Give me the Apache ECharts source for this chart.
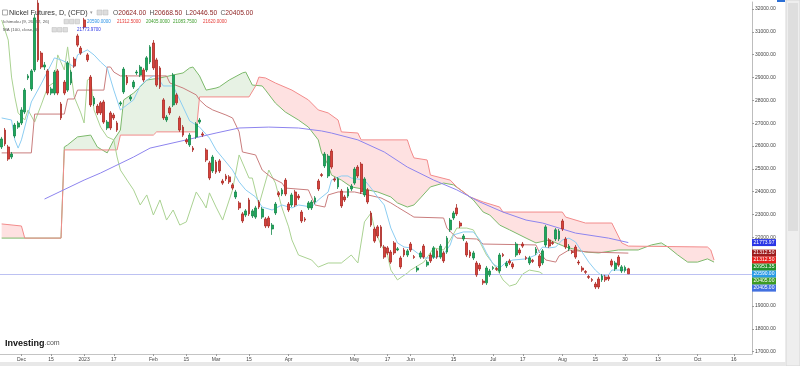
<!DOCTYPE html>
<html><head><meta charset="utf-8">
<script src="https://cdn.jsdelivr.net/npm/echarts/dist/echarts.min.js"></script>
<style>html,body{margin:0;padding:0;background:#fff;}#c{width:800px;height:366px;}</style>
</head><body><div id="c"></div>
<script>
// ---- data ----
const slotCount = 228; // trading-day slots incl. 26 projected days
const tickLabels = [[6,'Dec'],[15,'15'],[25,'2023'],[34,'17'],[46,'Feb'],[56,'15'],[65,'Mar'],[75,'15'],[87,'Apr'],[107,'May'],[117,'17'],[124,'Jun'],[137,'15'],[149,'Jul'],[158,'17'],[170,'Aug'],[180,'15'],[189,'30'],[199,'13'],[211,'Oct'],[222,'16']];
const yTicks = [17000,18000,19000,20000,21000,22000,23000,24000,25000,26000,27000,28000,29000,30000,31000,32000];
// [open, close, low, high]
const candles = [
[25960,26310,25870,26400],[26700,26090,26000,26790],[25960,25430,25350,26050],[25520,25650,25430,25740],[26440,26920,26350,27010],
[26830,27010,26750,27100],[27010,27580,26920,27700],[27490,28450,27400,28540],[28980,29070,28890,29150],[28500,29290,28410,29370],
[29330,31610,29240,31780],[32260,29770,29680,32390],[30070,29460,29370,30160],[29460,29550,29330,29680],[29290,28320,28230,29370],
[28320,28500,28230,28590],[28320,29240,28230,29330],[29290,28320,28230,29370],[27840,27230,27140,27930],[28800,28320,28230,28890],
[28450,29640,28370,29720],[28760,29240,28670,29330],[29810,29500,29420,29900],[30820,30420,30340,30910],[30290,30070,29990,30380],
[31520,31210,31120,31610],[29990,29770,29680,30070],[29020,27800,27710,29110],[27840,28100,27750,28190],[27750,27450,27360,27840],
[27890,27450,27360,27970],[27930,27050,26970,28020],[26790,27050,26700,27140],[27450,26790,26700,27530],[27360,27230,27140,27450],
[27010,26700,26620,27100],[27840,27890,27750,27970],[28370,29370,28280,29460],[29020,28760,28670,29110],[28060,28150,27970,28240],
[28590,28800,28500,28890],[29200,29240,29110,29330],[29110,29460,29020,29550],[29330,28890,28800,29420],[29330,29860,29240,29940],
[29680,30340,29590,30420],[30510,29420,29330,30640],[29770,28670,28590,29860],[29420,28590,28500,29500],[28020,27230,27140,28100],
[27140,27270,27050,27360],[27670,27450,27360,27750],[27800,29110,27710,29200],[28240,27890,27800,28320],[27230,26700,26620,27320],
[26830,26480,26400,26920],[26270,26180,26090,26350],[26050,26480,25960,26570],[25910,25830,25740,26000],[26400,26970,26310,27050],
[27050,27140,26970,27230],[26530,26480,26400,26620],[25830,25390,25300,25910],[25260,24600,24510,25350],[24910,25520,24820,25610],
[25300,24860,24780,25390],[25350,24910,24820,25430],[24470,24380,24300,24560],[24690,24560,24470,24780],[24650,24430,24340,24730],
[24300,24160,24080,24380],[23770,23990,23680,24080],[23510,23290,23200,23590],[23030,22720,22630,23110],[22980,23160,22890,23240],
[23640,23030,22940,23730],[22940,23160,22850,23240],[22890,23290,22810,23380],[23550,23330,23240,23640],[22890,23240,22810,23330],
[22810,22500,22410,22890],[22850,22500,22410,22940],[22370,22540,22110,22630],[23070,23460,22980,23550],[23950,23860,23770,24030],
[23900,24080,23810,24160],[24510,23900,23810,24600],[23460,23200,23110,23550],[23420,23860,23330,23950],[23990,23420,23330,24080],
[23810,23730,23640,23900],[23110,22720,22630,23200],[22810,22760,22680,22890],[23290,23510,23200,23590],[23290,23550,23200,23640],
[23550,23730,23460,23810],[24470,24120,24030,24560],[24750,24710,24640,24820],[25130,25650,25040,25740],[24690,25560,24600,25650],
[25780,25080,24990,25870],[24560,24510,24430,24640],[24210,24560,24120,24640],[24030,23380,23290,24120],[23770,23640,23550,23860],
[23810,24120,23730,24210],[24120,24250,24030,24340],[24380,24990,24300,25080],[25080,24690,24600,25170],[25210,23990,23900,25300],
[23860,24560,23770,24640],[24080,23550,23460,24160],[23070,22540,22460,23160],[22370,21840,21760,22460],[22460,22060,21970,22540],
[22460,21620,21540,22540],[21580,21140,21060,21670],[21540,21320,21230,21620],[21360,20920,20840,21450],[21760,21320,21230,21840],
[21450,21500,21400,21580],[21100,20710,20620,21190],[21450,21230,21140,21540],[21230,21410,21140,21490],[21710,21450,21360,21800],
[21160,21120,21060,21230],[20570,20660,20480,20750],[21140,21320,21060,21410],[21620,21140,21060,21710],[20790,20920,20710,21010],
[21230,20970,20880,21320],[21140,21540,21060,21620],[21410,21140,21060,21490],[21140,21620,21060,21710],[21320,20970,20880,21410],
[21360,21970,21280,22060],[22330,22760,22240,22850],[22850,23070,22760,23160],[23290,23030,22940,23460],[22630,22500,22410,22720],
[21930,22060,21840,22150],[21760,21230,21140,21840],[21360,21190,21100,21450],[21100,21320,21010,21410],[20880,20360,20270,20970],
[20790,20620,20530,20880],[20090,20010,19920,20180],[20010,20660,19920,20750],[20360,20530,20270,20620],[20640,20680,20570,20750],
[20640,20600,20530,20710],[20530,21230,20440,21320],[21250,21200,21140,21320],[20750,20880,20660,20970],[20970,20880,20790,21060],
[20840,20710,20620,20920],[21230,21710,21140,21800],[21450,21320,21230,21540],[21710,21620,21540,21800],[21120,21080,21010,21190],
[20880,21100,20790,21190],[21000,20950,20880,21060],[21320,21490,21230,21580],[21190,20750,20660,21270],[20880,21410,20790,21490],
[21670,22460,21580,22540],[21890,21620,21540,21970],[21780,21730,21670,21840],[21930,22330,21840,22410],[21930,22280,21840,22370],
[22720,22370,22280,22810],[21930,21580,21490,22020],[21490,21620,21400,21710],[21380,21340,21270,21450],[21580,21140,21060,21670],
[20920,20880,20790,21010],[20660,20570,20490,20750],[20510,20470,20400,20570],[20290,20250,20180,20360],[20160,20120,20050,20220],
[19960,19830,19740,20050],[20180,19830,19740,20270],[20140,20310,20050,20400],[20270,20140,20050,20360],[20270,20180,20090,20360],
[20970,20790,20710,21060],[20620,20880,20530,20970],[21140,20790,20710,21230],[20530,20710,20440,20790],[20550,20690,20460,20770],
[20624,20405,20400,20668.5]
];
const ma100 = [[13,23680],[25,24510],[30,24820],[40,25520],[45,25910],[56,26270],[65,26570],[72,26790],[81,26830],[90,26790],[97,26660],[100,26570],[108,26270],[116,25740],[123,25080],[131,24510],[138,24080],[145,23550],[152,23110],[159,22760],[164,22630],[174,22190],[184,21970],[190,21773.97]];
const tenkan = [[0,27230],[3,27140],[4,26270],[5,25910],[6,26270],[9,27930],[12,28720],[16,29860],[18,29770],[20,29640],[22,29460],[23,29990],[26,30210],[28,29990],[30,29680],[32,29420],[34,28450],[36,27580],[38,27800],[40,28020],[42,28630],[44,28890],[46,29070],[47,29070],[49,28630],[52,28630],[54,28020],[57,27100],[60,26830],[63,26350],[65,25830],[67,25480],[70,24950],[72,24430],[74,24080],[77,23770],[79,23330],[82,23200],[85,23420],[88,23290],[90,23420],[94,23330],[96,23640],[99,23990],[100,24510],[103,24690],[105,24690],[106,24600],[110,24510],[112,24160],[114,23770],[116,23420],[118,22410],[120,21760],[122,21580],[124,21540],[126,21320],[128,21100],[130,21100],[132,21140],[134,21270],[136,21670],[137,22110],[140,22240],[143,22240],[145,21890],[147,21320],[149,20840],[151,20660],[153,20920],[155,21010],[159,21060],[162,21230],[164,21580],[166,21540],[168,21580],[170,21890],[172,21970],[174,21800],[176,21360],[178,20920],[180,20570],[182,20310],[184,20360],[185,20570],[188,20570],[190,20590]];
const kijun = [[0,25700],[9,25700],[10,27400],[19,27400],[20,28060],[22,28060],[23,28450],[31,28450],[32,29460],[33,29460],[34,29240],[36,29070],[50,29070],[51,28760],[55,28540],[59,28240],[60,28020],[62,27750],[64,27580],[68,27360],[70,27230],[72,26620],[73,25740],[77,25610],[79,24950],[82,24600],[85,24380],[86,24160],[93,24080],[95,23420],[98,23330],[99,23860],[102,23990],[107,23990],[111,23860],[115,23730],[118,23510],[120,23330],[124,22980],[125,22890],[134,22850],[135,22410],[138,21970],[144,21930],[146,21710],[162,21670],[163,21360],[165,21010],[168,20920],[169,21190],[172,21450],[178,21360],[190,21312.5]];
const chikou = [[0,31520],[2,30640],[3,29020],[4,28150],[5,27450],[7,27140],[8,27580],[10,27050],[12,27800],[14,28590],[16,28800],[17,29990],[19,29330],[20,30340],[21,29200],[22,28150],[24,27450],[25,27010],[26,28890],[27,28980],[28,27580],[30,26830],[32,26400],[34,26270],[35,25520],[36,24950],[38,24510],[40,24080],[42,23420],[44,23860],[46,22980],[48,23640],[50,22760],[52,23200],[54,22540],[56,22680],[59,23990],[61,23550],[62,23290],[63,23950],[65,23330],[67,22760],[70,24080],[72,25610],[75,24600],[76,24600],[78,23420],[81,24950],[83,24380],[85,23290],[87,22460],[88,21890],[90,21230],[94,21010],[96,20700],[99,20880],[103,20880],[106,21230],[108,20880],[110,22680],[112,23070],[113,22410],[115,21670],[117,21230],[118,20570],[120,20140],[123,20440],[124,20570],[128,20920],[131,21540],[134,21450],[136,21890],[138,22410],[141,22410],[143,22330],[145,21800],[147,21230],[150,20660],[152,20140],[154,19870],[156,19960],[158,20400],[160,20570],[163,20490],[164,20405]];
const senkouA = [[0,21970],[18,21970],[19,25960],[20,26050],[23,26400],[27,26480],[29,25960],[32,25700],[34,26270],[36,26700],[37,28020],[40,28320],[42,28590],[44,28890],[48,28980],[52,29110],[55,29200],[57,29420],[58,29460],[60,29070],[62,28450],[65,28540],[66,28590],[69,28890],[73,29200],[74,29240],[76,28670],[79,28630],[80,28450],[83,27880],[86,27490],[90,27140],[93,26830],[96,26270],[97,25700],[99,25170],[100,24730],[103,24510],[106,24210],[111,24080],[114,23990],[118,23770],[120,23510],[123,23330],[125,23420],[127,23730],[130,24210],[134,24380],[137,24300],[140,23990],[143,23640],[146,23110],[148,22980],[151,22540],[154,22330],[159,21970],[162,21760],[166,21890],[171,21580],[177,21360],[181,21320],[187,21450],[193,21450],[197,21670],[200,21760],[202,21580],[205,21230],[208,20920],[211,20920],[214,21060],[216,20920]];
const senkouB = [[0,22590],[6,22500],[7,21970],[18,21970],[19,25830],[35,25830],[36,26480],[46,26480],[47,26620],[59,26620],[60,28150],[75,28150],[77,28630],[78,29020],[80,28980],[83,28760],[88,28450],[93,28020],[96,27580],[99,27450],[102,27140],[103,26620],[108,26570],[109,26270],[123,26270],[124,25830],[125,25480],[129,25390],[130,24730],[136,24510],[138,24210],[142,23770],[146,23550],[151,23330],[152,23110],[170,23110],[171,22890],[177,22630],[185,22630],[188,21760],[190,21620],[214,21580],[215,21450],[216,21010]];
const lastPrice = 20405;
const tags = [
 {v:21773.97, text:'21773.97', color:'#2b36e6'},
 {v:21312.5, text:'21312.50', color:'#9e1d1d'},
 {v:21312.5, text:'21312.50', color:'#e6201c'},
 {v:20951.35, text:'20951.35', color:'#24902a'},
 {v:20590, text:'20590.00', color:'#2b9be6'},
 {v:20405, text:'20405.00', color:'#3d9a22'},
 {v:20405, text:'20405.00', color:'#4270e0'}
];

// ---- chart ----
const cats = Array.from({length: slotCount}, (_, i) => String(i));
const tickMap = {}; tickLabels.forEach(t => tickMap[t[0]] = t[1]);
const chart = echarts.init(document.getElementById('c'));

function interp(pts, i) {
  if (i <= pts[0][0]) return pts[0][1];
  for (let k = 0; k < pts.length - 1; k++) {
    const a = pts[k], b = pts[k + 1];
    if (i >= a[0] && i <= b[0]) return b[0] === a[0] ? b[1] : a[1] + (b[1] - a[1]) * (i - a[0]) / (b[0] - a[0]);
  }
  return pts[pts.length - 1][1];
}
const GREEN_FILL = 'rgba(110,180,95,0.17)', RED_FILL = 'rgba(250,105,105,0.2)';
function renderCloud(params, api) {
  const lo = Math.max(senkouA[0][0], senkouB[0][0]);
  const hi = Math.min(senkouA[senkouA.length - 1][0], senkouB[senkouB.length - 1][0]);
  const p0 = api.coord([0, 20000]), p1 = api.coord([1, 20000]);
  const w = p1[0] - p0[0];
  const px = f => p0[0] + f * w;
  const py = v => api.coord([0, v])[1];
  const nodes = [];
  for (let i = lo; i <= hi; i++) {
    const a = interp(senkouA, i), b = interp(senkouB, i);
    if (nodes.length) {
      const pr = nodes[nodes.length - 1];
      const d0 = pr.a - pr.b, d1 = a - b;
      if (d0 * d1 < 0) {
        const t = d0 / (d0 - d1);
        nodes.push({x: pr.x + t, a: pr.a + t * (a - pr.a), b: pr.b + t * (b - pr.b)});
      }
    }
    nodes.push({x: i, a: a, b: b});
  }
  const groups = []; let cur = null;
  for (let k = 0; k < nodes.length - 1; k++) {
    const n0 = nodes[k], n1 = nodes[k + 1];
    const s = (n0.a - n0.b) + (n1.a - n1.b);
    const sg = s > 0 ? 1 : (s < 0 ? -1 : (cur ? cur.sg : 1));
    if (!cur || cur.sg !== sg) { cur = {sg: sg, nodes: [n0]}; groups.push(cur); }
    cur.nodes.push(n1);
  }
  const children = groups.map(g => {
    const pts = g.nodes.map(n => [px(n.x), py(n.a)]).concat(g.nodes.slice().reverse().map(n => [px(n.x), py(n.b)]));
    return {type: 'polygon', shape: {points: pts}, style: {fill: g.sg > 0 ? GREEN_FILL : RED_FILL}, silent: true};
  });
  return {type: 'group', children: children};
}
function lineSeries(name, data, color, z) {
  return {name: name, type: 'line', data: data, showSymbol: false, symbol: 'none', silent: true, z: z || 2,
    lineStyle: {width: 1, color: color}, emphasis: {disabled: true}};
}

const option = {
  animation: false,
  grid: {left: 0, right: 48, top: 2, bottom: 12, containLabel: false},
  xAxis: {
    type: 'category', data: cats, boundaryGap: true,
    axisLine: {lineStyle: {color: '#c4c4c4', width: 1}},
    axisTick: {show: true, alignWithLabel: true, length: 2, interval: (i) => tickMap[i] !== undefined, lineStyle: {color: '#9a9a9a'}},
    axisLabel: {interval: (i) => tickMap[i] !== undefined, formatter: (v, i) => tickMap[i] || '', fontSize: 5, color: '#444', margin: 3, fontFamily: 'Arial'},
    splitLine: {show: false}
  },
  yAxis: {
    type: 'value', position: 'right', min: 16896, max: 32306,
    axisLine: {show: true, lineStyle: {color: '#bdbdbd'}},
    axisTick: {show: true, length: 2, customValues: yTicks, lineStyle: {color: '#9a9a9a'}},
    axisLabel: {customValues: yTicks.filter(v => v !== 20000 && v !== 21000), formatter: v => v.toFixed(2), fontSize: 5, color: '#444', margin: 3, fontFamily: 'Arial'},
    splitLine: {show: false}
  },
  series: [
    {type: 'custom', renderItem: renderCloud, data: [[0, 20000]], z: 1, silent: true, clip: true},
    lineSeries('SenkouA', senkouA, '#7cb96b'),
    lineSeries('SenkouB', senkouB, '#f28b8b'),
    lineSeries('Chikou', chikou, '#aad292'),
    lineSeries('Kijun', kijun, '#c97d7d'),
    lineSeries('Tenkan', tenkan, '#8ccdf2'),
    lineSeries('MA100', ma100, '#8d84ee'),
    {
      type: 'candlestick', data: candles, barWidth: 2.3, z: 5, silent: true,
      itemStyle: {color: '#1ea85b', color0: '#d9423b', borderColor: '#14884a', borderColor0: '#a92a24', borderWidth: 0.8},
      markLine: {symbol: 'none', silent: true, label: {show: false}, lineStyle: {color: '#bcc1f2', width: 1, type: 'solid'}, data: [{yAxis: lastPrice}]}
    }
  ]
};
chart.setOption(option);

// header / decorations
const hdr = [];
hdr.push({type: 'rect', shape: {x: 786, y: 0, width: 14, height: 366}, style: {fill: '#eeeeee', stroke: '#d6d6d6', lineWidth: 1}, z: 100});
hdr.push({type: 'rect', shape: {x: 788, y: 3, width: 10, height: 228}, style: {fill: '#dedede'}, z: 101});
hdr.push({type: 'rect', shape: {x: 777, y: 0, width: 8, height: 2}, style: {fill: '#2b6fd6'}, z: 101});
hdr.push({type: 'rect', shape: {x: 0, y: 362, width: 786, height: 4}, style: {fill: '#e8e8e8'}, z: 100});
hdr.push({type: 'rect', shape: {x: 2.5, y: 10, width: 5, height: 5}, style: {fill: '#fff', stroke: '#888', lineWidth: 0.7}, z: 100});
hdr.push({type: 'text', x: 9, y: 12.8, style: {text: 'Nickel Futures, D, (CFD)', font: '7.2px Arial', fill: '#333', verticalAlign: 'middle', textVerticalAlign: 'middle'}, z: 100});
hdr.push({type: 'text', x: 90, y: 12.8, style: {text: '\u25BE', font: '5px Arial', fill: '#999', verticalAlign: 'middle', textVerticalAlign: 'middle'}, z: 100});
[[97,10],[103,10]].forEach(p => hdr.push({type: 'rect', shape: {x: p[0], y: p[1], width: 5, height: 5}, style: {fill: '#ddd', stroke: '#bbb', lineWidth: 0.5}, z: 100}));
hdr.push({type: 'text', x: 113, y: 12.8, style: {
  text: '{l|O}{v|20624.00} {l|H}{v|20668.50} {l|L}{v|20446.50} {l|C}{v|20405.00}',
  rich: {l: {font: '6.7px Arial', fill: '#555'}, v: {font: '6.7px Arial', fill: '#8c1f1f'}}, verticalAlign: 'middle', textVerticalAlign: 'middle'}, z: 100});
hdr.push({type: 'text', x: 3, y: 21.5, style: {text: 'Ichimoku (9, 26, 52, 26)', font: '4.4px Arial', fill: '#555', verticalAlign: 'middle', textVerticalAlign: 'middle'}, z: 100});
[[64,19.3],[69.5,19.3],[75,19.3]].forEach(p => hdr.push({type: 'rect', shape: {x: p[0], y: p[1], width: 4.5, height: 4.5}, style: {fill: '#ddd', stroke: '#bbb', lineWidth: 0.5}, z: 100}));
const ichVals = [[87,'20590.0000','#2a93e6'],[117,'21312.5000','#e53935'],[146,'20405.0000','#3c9c2a'],[173,'21083.7500','#3c9c2a'],[203,'21620.0000','#e53935']];
ichVals.forEach(t => hdr.push({type: 'text', x: t[0], y: 21.5, style: {text: t[1], font: '4.5px Arial', fill: t[2], verticalAlign: 'middle', textVerticalAlign: 'middle'}, z: 100}));
hdr.push({type: 'text', x: 3, y: 29.7, style: {text: 'MA (100, close, 0)', font: '4.4px Arial', fill: '#555', verticalAlign: 'middle', textVerticalAlign: 'middle'}, z: 100});
[[52,27.5],[57.5,27.5],[63,27.5]].forEach(p => hdr.push({type: 'rect', shape: {x: p[0], y: p[1], width: 4.5, height: 4.5}, style: {fill: '#ddd', stroke: '#bbb', lineWidth: 0.5}, z: 100}));
hdr.push({type: 'text', x: 77, y: 29.7, style: {text: '21773.9700', font: '4.5px Arial', fill: '#2b36e6', verticalAlign: 'middle', textVerticalAlign: 'middle'}, z: 100});
hdr.push({type: 'text', x: 5, y: 343.5, style: {text: '{a|Investing}{b|.com}', rich: {a: {font: 'bold 9px Arial', fill: '#111'}, b: {font: '7px Arial', fill: '#555'}}, verticalAlign: 'middle', textVerticalAlign: 'middle'}, z: 100});

// price tags on the right axis, stacked to avoid overlap
let prevY = -100;
tags.slice().sort((a, b) => b.v - a.v).forEach(t => {
  let y = chart.convertToPixel({yAxisIndex: 0}, t.v);
  y = Math.max(y, prevY + 7);
  prevY = y;
  hdr.push({type: 'rect', shape: {x: 752, y: y - 3.5, width: 24, height: 7}, style: {fill: t.color}, z: 110});
  hdr.push({type: 'text', x: 764, y: y, style: {text: t.text, font: '5px Arial', fill: '#fff', align: 'center', textAlign: 'center', verticalAlign: 'middle', textVerticalAlign: 'middle'}, z: 111});
});
chart.setOption({graphic: {elements: hdr}});
</script>
</body></html>
